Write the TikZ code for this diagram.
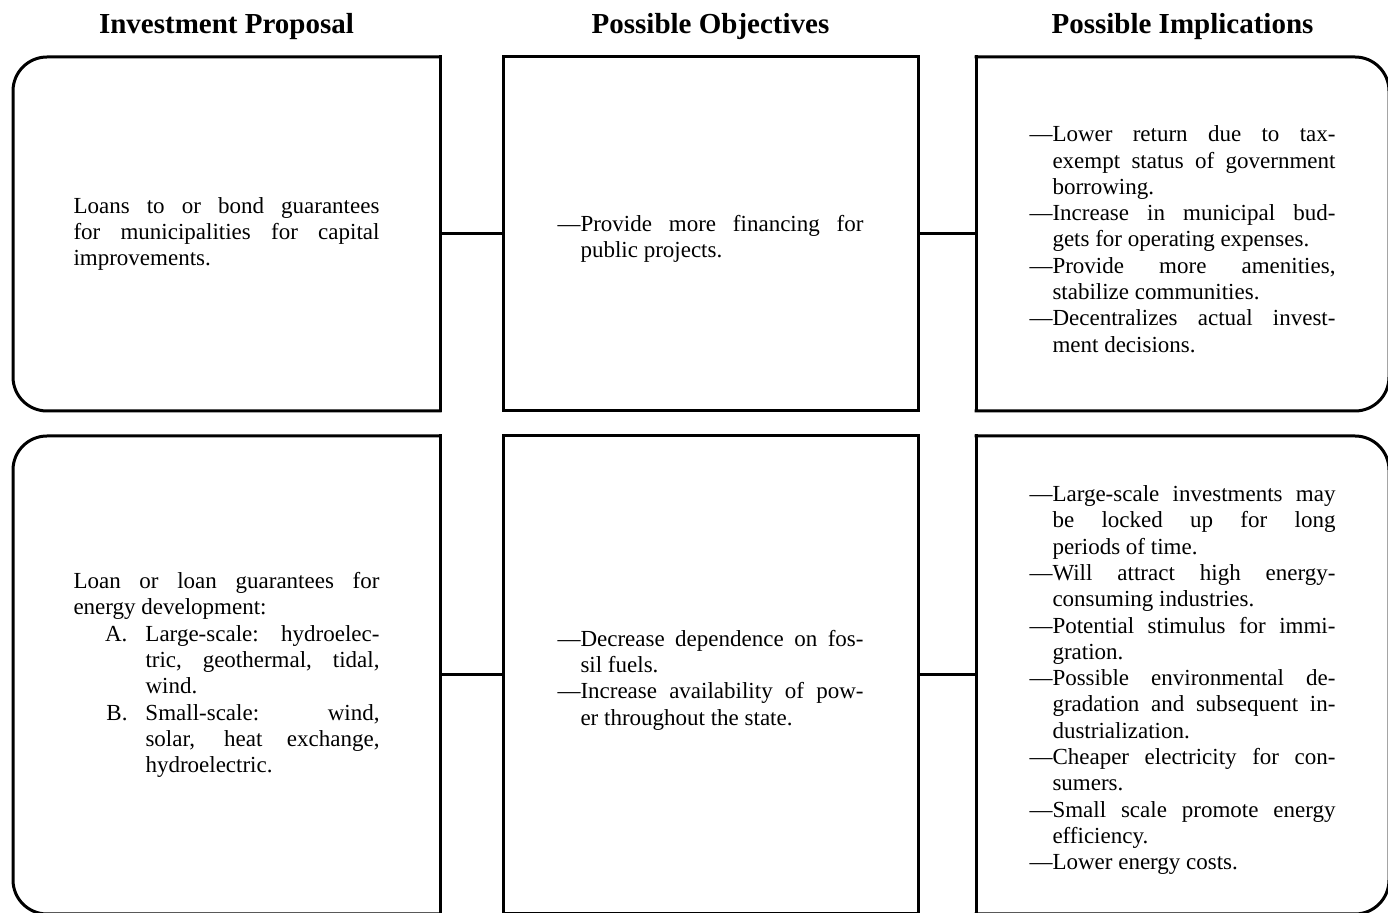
\documentclass[tikz,border=0pt]{standalone}
\usepackage{fontspec}
\setmainfont{Liberation Serif}
\usetikzlibrary{positioning}
\newcommand{\bodyfont}{\fontsize{11.5}{13.15}\selectfont}
\newcommand{\dashitem}{\par\noindent\hangindent=1em\hangafter=1\textemdash}
\newcommand{\letteritem}[1]{\par\noindent\llap{#1\hspace{9pt}}}
\tikzset{
    panel/.style={rectangle, inner sep=0pt, outer sep=0pt, text width=153pt, align=justify, font=\bodyfont, execute at begin node={\parindent=0pt}},
    midpanel/.style={panel, draw, line width=1.5pt},
    heading/.style={font=\fontsize{14.5}{16}\selectfont\bfseries},
    frame/.style={line width=1.5pt, line cap=rect},
    link/.style={line width=1.5pt}
}

\begin{document}
\begin{tikzpicture}[x=0.5pt, y=-0.5pt]
        \useasboundingbox (0,0) rectangle (1388,913);
        \clip (0,0) rectangle (1388,913);

        % -----------------------------------------------------------------
        % ROW 1: MUNICIPAL LOANS
        % -----------------------------------------------------------------
        \node[panel, minimum width=213.5pt, minimum height=177pt] (prop1) at (226.5,234)
            {Loans to or bond guarantees\linebreak for municipalities for capital\linebreak improvements.\par};
        \node[midpanel, minimum width=207.5pt, minimum height=177pt, right=31.5pt of prop1] (obj1)
            {\dashitem Provide more financing for\linebreak public projects.\par};
        \node[panel, minimum width=206.5pt, minimum height=177pt, right=29pt of obj1] (impl1)
            {\dashitem Lower return due to tax-\linebreak exempt status of government\linebreak borrowing.
             \dashitem Increase in municipal bud-\linebreak gets for operating expenses.
             \dashitem Provide more amenities,\linebreak stabilize communities.
             \dashitem Decentralizes actual invest-\linebreak ment decisions.\par};

        % -----------------------------------------------------------------
        % ROW 2: ENERGY LOANS
        % -----------------------------------------------------------------
        \node[panel, minimum width=213.5pt, minimum height=239pt, below=12.5pt of prop1] (prop2)
            {Loan or loan guarantees for\linebreak energy development:\par
             {\leftskip=36pt
             \letteritem{A.}Large-scale: hydroelec-\linebreak tric, geothermal, tidal,\linebreak wind.
             \letteritem{B.}Small-scale: wind,\linebreak solar, heat exchange,\linebreak hydroelectric.\par}};
        \node[midpanel, minimum width=207.5pt, minimum height=239pt, below=12.5pt of obj1] (obj2)
            {\dashitem Decrease dependence on fos-\linebreak sil fuels.
             \dashitem Increase availability of pow-\linebreak er throughout the state.\par};
        \node[panel, minimum width=206.5pt, minimum height=239pt, below=12.5pt of impl1] (impl2)
            {\dashitem Large-scale investments may\linebreak be locked up for long\linebreak periods of time.
             \dashitem Will attract high energy-\linebreak consuming industries.
             \dashitem Potential stimulus for immi-\linebreak gration.
             \dashitem Possible environmental de-\linebreak gradation and subsequent in-\linebreak dustrialization.
             \dashitem Cheaper electricity for con-\linebreak sumers.
             \dashitem Small scale promote energy\linebreak efficiency.
             \dashitem Lower energy costs.\par};

        % -----------------------------------------------------------------
        % FRAMES (rounded on the outer side only)
        % -----------------------------------------------------------------
        \foreach \b in {prop1, prop2} {
            \draw[frame, rounded corners=17pt] (\b.north east) -- (\b.north west) -- (\b.south west) -- (\b.south east);
            \draw[frame] (\b.north east) -- (\b.south east);
        }
        \foreach \b in {impl1, impl2} {
            \draw[frame, rounded corners=17pt] (\b.north west) -- (\b.north east) -- (\b.south east) -- (\b.south west);
            \draw[frame] (\b.north west) -- (\b.south west);
        }

        % Connectors
        \draw[link] (prop1.east) -- (obj1.west);
        \draw[link] (obj1.east) -- (impl1.west);
        \draw[link] (prop2.east) -- (obj2.west);
        \draw[link] (obj2.east) -- (impl2.west);

        % Column headings
        \node[heading, above=5pt of prop1] (headprop) {Investment Proposal};
        \node[heading, above=5pt of obj1] (headobj) {Possible Objectives};
        \node[heading, above=5pt of impl1] (headimpl) {Possible Implications};

    \end{tikzpicture}
\end{document}
